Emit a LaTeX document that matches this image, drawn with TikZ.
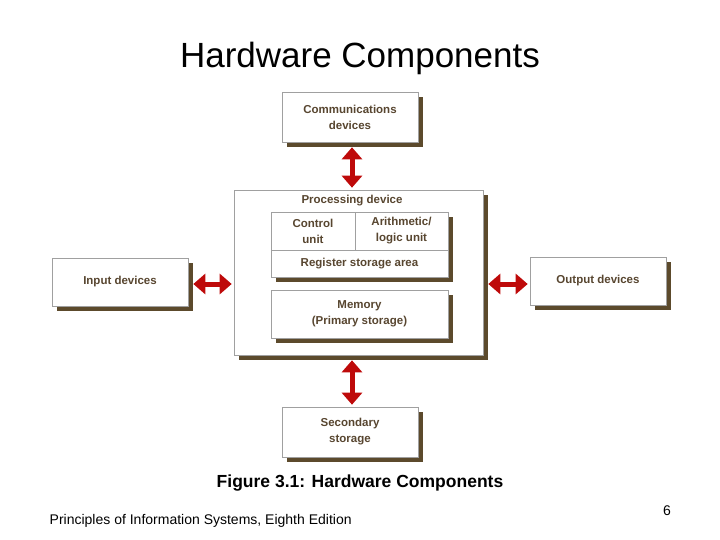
\documentclass[tikz,border=0pt]{standalone}
\usepackage{fontspec}
\setmainfont{Liberation Sans}
\usetikzlibrary{arrows.meta,shadows}
\definecolor{boxshadow}{RGB}{92,74,44}
\definecolor{boxtext}{RGB}{88,70,48}
\definecolor{linkred}{RGB}{190,10,10}
\tikzset{every picture/.style={line width=0.75pt}}
\tikzset{
  unit/.style={draw={rgb,255:red,160;green,160;blue,160},fill=white,line width=0.6pt,
    inner sep=0pt,align=center,text=boxtext,font=\fontsize{11.5}{16}\selectfont\bfseries},
  shadowed/.style={unit,drop shadow={shadow xshift=5pt,shadow yshift=-5pt,fill=boxshadow,opacity=1}},
  link/.style={draw=linkred,line width=5pt,{Triangle[width=20pt,length=12pt]}-{Triangle[width=20pt,length=12pt]},shorten <=5pt,shorten >=2pt}
}
\begin{document}
\begin{tikzpicture}[x=1pt,y=1pt,yscale=-1,xscale=1]
\useasboundingbox (0,0) rectangle (720,540);

%Shape: Rectangle outer boxes
\node [shadowed,minimum width=136pt,minimum height=50pt] (comm) at (350,117) {Communications\\devices};
\node [shadowed,minimum width=249pt,minimum height=165pt] (proc) at (358.5,272.5) {};
\node [unit,draw=none,fill=none,anchor=north] at (352,195) {Processing device};
\node [shadowed,minimum width=177pt,minimum height=65pt] (core) at (359.5,244.5) {};
\node [unit,minimum width=84pt,minimum height=38pt] (ctrl) at (313,231) {Control\\unit};
\node [unit,minimum width=93pt,minimum height=38pt] (alu) at (401.5,231) {Arithmetic/\\logic unit};
\node [unit,minimum width=177pt,minimum height=27pt] (reg) at (359.5,263.5) {Register storage area};
\node [shadowed,minimum width=177pt,minimum height=48pt] (mem) at (359.5,314) {Memory\\(Primary storage)};
\node [shadowed,minimum width=136pt,minimum height=48pt] (input) at (120,282) {Input devices};
\node [shadowed,minimum width=136pt,minimum height=48pt] (output) at (598,281) {Output devices};
\node [shadowed,minimum width=136pt,minimum height=50pt] (sec) at (350,432) {Secondary\\storage};

%Straight Lines
\draw [link] (comm.south -| 352,0) -- (proc.north -| 352,0);
\draw [link] (proc.south -| 352,0) -- (sec.north -| 352,0);
\draw [link] (input.east |- 0,284) -- (proc.west |- 0,284);
\draw [link] (proc.east |- 0,284) -- (output.west |- 0,284);

% Text Node
\node (title) at (360,58) {\fontsize{35}{40}\selectfont Hardware Components};
% Text Node
\node (caption) at (360,483) {\fontsize{17.5}{20}\selectfont\bfseries Figure 3.1: Hardware Components};
% Text Node
\node [anchor=west] (footer) at (46,521) {\fontsize{14}{16}\selectfont Principles of Information Systems, Eighth Edition};
% Text Node
\node (page) at (667,511) {\fontsize{14}{16}\selectfont 6};
\end{tikzpicture}
\end{document}
